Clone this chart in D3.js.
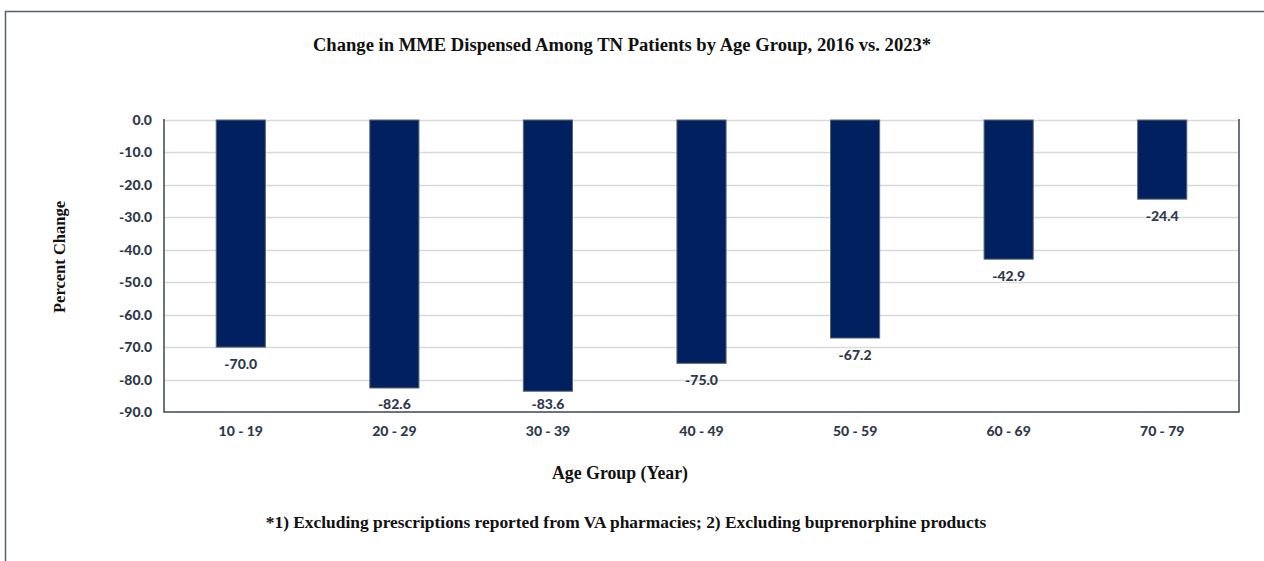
<!DOCTYPE html>
<html><head><meta charset="utf-8">
<script src="https://cdn.jsdelivr.net/npm/d3@7"></script>
<style>body{margin:0;background:#fff}svg{display:block}</style>
</head><body>
<script>
const categories = ["10 - 19","20 - 29","30 - 39","40 - 49","50 - 59","60 - 69","70 - 79"];
const values = [-70.0,-82.6,-83.6,-75.0,-67.2,-42.9,-24.4];
const yTicks = [0,-10,-20,-30,-40,-50,-60,-70,-80,-90];
const title = "Change in MME Dispensed Among TN Patients by Age Group, 2016 vs. 2023*";
const yTitle = "Percent Change";
const xTitle = "Age Group (Year)";
const footnote = "*1) Excluding prescriptions reported from VA pharmacies; 2) Excluding buprenorphine products";

const W = 1264, H = 561;
const m = {left:164, right:25, top:120, bottom:149};
const svg = d3.select("body").append("svg").attr("width",W).attr("height",H);
const fmt = d => d.toFixed(1);

// outer frame
svg.append("path").attr("d",`M5.5,${H} V11.5 H${W}`).attr("fill","none").attr("stroke","#56606b").attr("stroke-width",1.5);

const x = d3.scaleBand().domain(categories).range([m.left, W-m.right]).padding(0);
const y = d3.scaleLinear().domain([0,-90]).range([m.top, H-m.bottom]);
const barW = x.bandwidth()*0.32;
const serif = "'Liberation Serif','DejaVu Serif',serif";
const sans = "Lato,'Open Sans',sans-serif";
const txtCol = "#2e3a4b";

// gridlines
svg.append("g").selectAll("line").data(yTicks.slice(0,-1)).join("line")
  .attr("x1",m.left).attr("x2",W-m.right)
  .attr("y1",d=>Math.round(y(d))+0.5).attr("y2",d=>Math.round(y(d))+0.5)
  .attr("stroke","#d9d9d9").attr("stroke-width",1.5);

// y axis
const ya = svg.append("g").attr("transform",`translate(${m.left},0)`)
  .call(d3.axisLeft(y).tickValues(yTicks).tickFormat(fmt).tickSize(0).tickPadding(12));
ya.select(".domain").remove();
ya.selectAll("text").attr("font-family",sans).attr("font-weight",900).attr("font-size",14).attr("fill",txtCol);

// x axis
const xa = svg.append("g").attr("transform",`translate(0,${y(-90)})`)
  .call(d3.axisBottom(x).tickSize(0).tickPadding(14));
xa.select(".domain").remove();
xa.selectAll("text").attr("font-family",sans).attr("font-weight",900).attr("font-size",14).attr("fill",txtCol);

// bars
svg.append("g").selectAll("rect").data(values).join("rect")
  .attr("x",(d,i)=>x(categories[i])+x.bandwidth()/2-barW/2)
  .attr("y",y(0)).attr("width",barW).attr("height",d=>y(d)-y(0))
  .attr("fill","#002060").attr("stroke","#5c6670").attr("stroke-width",1);

// value labels
svg.append("g").selectAll("text").data(values).join("text")
  .attr("x",(d,i)=>x(categories[i])+x.bandwidth()/2)
  .attr("y",d=>Math.min(y(d)+22, y(-90)-3))
  .attr("text-anchor","middle").attr("font-family",sans).attr("font-weight",900)
  .attr("font-size",14).attr("fill",txtCol).text(fmt);

// plot frame: left, bottom, right
svg.append("path").attr("d",`M${m.left},${m.top-1} V${y(-90)} H${W-m.right} V${m.top-1}`)
  .attr("fill","none").attr("stroke","#3a4556").attr("stroke-width",1.5);

// titles
svg.append("text").attr("x",622).attr("y",51).attr("text-anchor","middle")
  .attr("font-family",serif).attr("font-weight","bold").attr("font-size",18.6).attr("fill","#111").text(title);
svg.append("text").attr("transform","translate(65,257) rotate(-90)").attr("text-anchor","middle")
  .attr("font-family",serif).attr("font-weight","bold").attr("font-size",16.5).attr("fill","#111").text(yTitle);
svg.append("text").attr("x",620).attr("y",479).attr("text-anchor","middle")
  .attr("font-family",serif).attr("font-weight","bold").attr("font-size",17.8).attr("fill","#111").text(xTitle);
svg.append("text").attr("x",626).attr("y",528).attr("text-anchor","middle")
  .attr("font-family",serif).attr("font-weight","bold").attr("font-size",17.4).attr("fill","#111").text(footnote);
</script>
</body></html>
